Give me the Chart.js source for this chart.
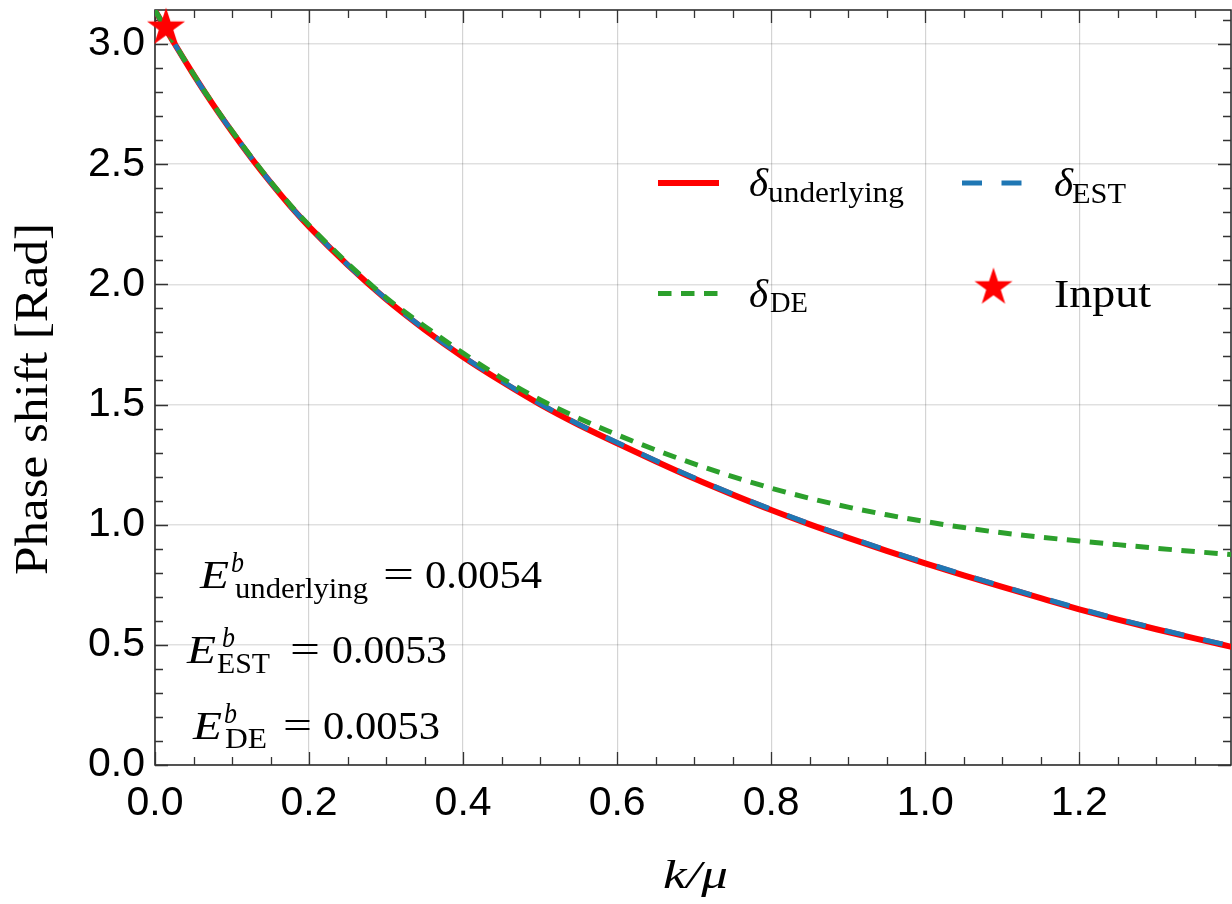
<!DOCTYPE html>
<html>
<head>
<meta charset="utf-8">
<script src="https://cdn.jsdelivr.net/npm/chart.js@4.4.1/dist/chart.umd.min.js"></script>
<style>
  html, body { margin: 0; padding: 0; background: #fff; }
  #wrap { width: 1232px; height: 904px; }
</style>
</head>
<body>
<div id="wrap"><canvas id="phaseChart" width="1232" height="904"></canvas></div>
<script>
// k/mu sample points and phase shifts (rad)
const kValues = [0, 0.025, 0.05, 0.075, 0.1, 0.125, 0.15, 0.175, 0.2, 0.25, 0.3, 0.35, 0.4, 0.45, 0.5, 0.55,
  0.6, 0.65, 0.7, 0.75, 0.8, 0.85, 0.9, 0.95, 1.0, 1.05, 1.1, 1.15, 1.2, 1.25, 1.3, 1.35, 1.4];
const deltaUnderlying = [3.14, 3.003, 2.873, 2.75, 2.635, 2.526, 2.424, 2.328, 2.24, 2.081, 1.938, 1.812, 1.698, 1.596, 1.501, 1.416,
  1.339, 1.264, 1.192, 1.125, 1.061, 1.001, 0.945, 0.891, 0.839, 0.789, 0.741, 0.694, 0.648, 0.605, 0.565, 0.527, 0.49];
const deltaEST = [3.14, 3.003, 2.873, 2.75, 2.636, 2.527, 2.425, 2.329, 2.241, 2.082, 1.94, 1.814, 1.7, 1.598, 1.503, 1.418,
  1.342, 1.267, 1.195, 1.128, 1.064, 1.004, 0.948, 0.894, 0.842, 0.792, 0.744, 0.697, 0.651, 0.608, 0.568, 0.53, 0.493];
const deltaDE = [3.14, 3.004, 2.875, 2.752, 2.638, 2.53, 2.428, 2.333, 2.246, 2.088, 1.945, 1.826, 1.714, 1.61, 1.52, 1.443,
  1.374, 1.311, 1.253, 1.2, 1.152, 1.11, 1.073, 1.041, 1.013, 0.988, 0.966, 0.948, 0.932, 0.917, 0.902, 0.888, 0.875];

// the input point
const inputK = [0.0143];
const inputPhase = [3.068];

// axis ranges and ticks
const xMax = 1.397;
const yMax = Math.PI;
const xMajorStep = 0.2, xMinorStep = 0.05;
const yMajorStep = 0.5, yMinorStep = 0.1;

const RED = '#ff0000';
const BLUE = '#1f77b4';
const GREEN = '#2ca02c';
const SERIF = '"Liberation Serif", "DejaVu Serif", serif';
const SANS = '"Liberation Sans", Arial, sans-serif';

function toPoints(xs, ys) {
  return xs.map((x, i) => ({ x: x, y: ys[i] }));
}

// filled five-point star used as the marker
function makeStar(r, color) {
  const c = document.createElement('canvas');
  const size = Math.ceil(r * 2 + 4);
  c.width = size; c.height = size;
  const g = c.getContext('2d');
  const cx = size / 2, cy = size / 2, inner = r * 0.382;
  g.beginPath();
  for (let i = 0; i < 10; i++) {
    const rad = i % 2 === 0 ? r : inner;
    const a = -Math.PI / 2 + i * Math.PI / 5;
    const px = cx + rad * Math.cos(a), py = cy + rad * Math.sin(a);
    if (i === 0) g.moveTo(px, py); else g.lineTo(px, py);
  }
  g.closePath();
  g.fillStyle = color;
  g.fill();
  return c;
}
const starImg = makeStar(20, RED);

// draw text squeezed/stretched to a given width
function fitText(ctx, text, x, y, font, width) {
  ctx.save();
  ctx.font = font;
  const w = ctx.measureText(text).width;
  ctx.translate(x, y);
  if (width) ctx.scale(width / w, 1);
  ctx.fillText(text, 0, 0);
  ctx.restore();
}

// fixed axis box sizes, no extra label padding
function fixBox(size) {
  return s => {
    if (s.isHorizontal()) s.height = size; else s.width = size;
    s.paddingTop = 0; s.paddingBottom = 0; s.paddingLeft = 0; s.paddingRight = 0;
  };
}

// frame with inward ticks on all four sides
const frameTicks = {
  id: 'frameTicks',
  beforeDatasetsDraw(chart) {
    const { ctx, chartArea: a, scales: { x, y } } = chart;
    ctx.save();
    ctx.strokeStyle = '#222';
    ctx.lineWidth = 1.5;
    ctx.strokeRect(a.left, a.top, a.right - a.left, a.bottom - a.top);
    ctx.lineWidth = 1.3;
    ctx.strokeStyle = '#333';
    ctx.beginPath();
    for (let v = 0; v <= xMax + 1e-9; v += xMinorStep) {
      const isMajor = Math.abs(v / xMajorStep - Math.round(v / xMajorStep)) < 1e-6;
      const len = isMajor ? 13 : 8;
      const px = Math.round(x.getPixelForValue(v)) + 0.5;
      ctx.moveTo(px, a.bottom); ctx.lineTo(px, a.bottom - len);
      ctx.moveTo(px, a.top); ctx.lineTo(px, a.top + len);
    }
    for (let v = 0; v <= yMax + 1e-9; v += yMinorStep) {
      const isMajor = Math.abs(v / yMajorStep - Math.round(v / yMajorStep)) < 1e-6;
      const len = isMajor ? 13 : 8;
      const py = Math.round(y.getPixelForValue(v)) + 0.5;
      ctx.moveTo(a.left, py); ctx.lineTo(a.left + len, py);
      ctx.moveTo(a.right, py); ctx.lineTo(a.right - len, py);
    }
    ctx.stroke();
    ctx.restore();
  }
};

// axis titles, legend and error labels
const labels = {
  id: 'labels',
  afterDraw(chart) {
    const { ctx } = chart;
    ctx.save();
    ctx.fillStyle = '#000';
    ctx.textBaseline = 'alphabetic';
    ctx.textAlign = 'left';

    // axis titles
    fitText(ctx, 'k/\u03bc', 663, 888, 'italic 40px ' + SERIF, 65);
    ctx.save();
    ctx.translate(47, 575);
    ctx.rotate(-Math.PI / 2);
    fitText(ctx, 'Phase shift [Rad]', 0, 0, '46px ' + SERIF, 352);
    ctx.restore();

    // legend samples
    ctx.lineCap = 'butt';
    ctx.strokeStyle = RED; ctx.lineWidth = 6; ctx.setLineDash([]);
    ctx.beginPath(); ctx.moveTo(658, 183); ctx.lineTo(719, 183); ctx.stroke();
    ctx.strokeStyle = BLUE; ctx.lineWidth = 5; ctx.setLineDash([20, 19.5]);
    ctx.beginPath(); ctx.moveTo(962, 183); ctx.lineTo(1022, 183); ctx.stroke();
    ctx.strokeStyle = GREEN; ctx.lineWidth = 5; ctx.setLineDash([13.5, 9.5]);
    ctx.beginPath(); ctx.moveTo(658, 293.5); ctx.lineTo(719, 293.5); ctx.stroke();
    ctx.setLineDash([]);
    ctx.drawImage(starImg, 993.5 - starImg.width / 2, 287.5 - starImg.height / 2);

    // legend text
    const big = '41px ' + SERIF, bigIt = 'italic 41px ' + SERIF, small = '29px ' + SERIF, smallIt = 'italic 29px ' + SERIF;
    fitText(ctx, '\u03b4', 749, 196, bigIt);
    fitText(ctx, 'underlying', 768, 202, small, 136);
    fitText(ctx, '\u03b4', 1054, 196, bigIt);
    fitText(ctx, 'EST', 1072, 203, small, 54);
    fitText(ctx, '\u03b4', 749, 307, bigIt);
    fitText(ctx, 'DE', 770, 312, small, 38);
    fitText(ctx, 'Input', 1054, 307, big, 97);

    // error labels
    fitText(ctx, 'E', 200, 588, bigIt, 29);
    fitText(ctx, 'b', 231, 572, smallIt, 13);
    fitText(ctx, 'underlying', 235, 598, small, 133);
    fitText(ctx, '=', 383, 588, big, 31);
    fitText(ctx, '0.0054', 425, 588, big, 117);

    fitText(ctx, 'E', 187, 663, bigIt, 29);
    fitText(ctx, 'b', 222, 647, smallIt, 13);
    fitText(ctx, 'EST', 217, 673, small, 53);
    fitText(ctx, '=', 290, 663, big, 30);
    fitText(ctx, '0.0053', 332, 663, big, 115);

    fitText(ctx, 'E', 193, 739, bigIt, 29);
    fitText(ctx, 'b', 224, 723, smallIt, 13);
    fitText(ctx, 'DE', 225, 748, small, 42);
    fitText(ctx, '=', 283, 739, big, 29);
    fitText(ctx, '0.0053', 323, 739, big, 117);
    ctx.restore();
  }
};

const ctx = document.getElementById('phaseChart').getContext('2d');
new Chart(ctx, {
  type: 'scatter',
  data: {
    datasets: [
      {
        label: 'Input',
        data: toPoints(inputK, inputPhase),
        pointStyle: starImg,
        pointRadius: 20,
        showLine: false,
        clip: false,
        order: 0
      },
      {
        label: 'delta_DE',
        data: toPoints(kValues, deltaDE),
        showLine: true,
        borderColor: GREEN,
        borderWidth: 5,
        borderDash: [13.5, 9.5],
        pointRadius: 0,
        cubicInterpolationMode: 'monotone',
        order: 1
      },
      {
        label: 'delta_EST',
        data: toPoints(kValues, deltaEST),
        showLine: true,
        borderColor: BLUE,
        borderWidth: 5,
        borderDash: [20, 19.5],
        pointRadius: 0,
        cubicInterpolationMode: 'monotone',
        order: 2
      },
      {
        label: 'delta_underlying',
        data: toPoints(kValues, deltaUnderlying),
        showLine: true,
        borderColor: RED,
        borderWidth: 6,
        pointRadius: 0,
        cubicInterpolationMode: 'monotone',
        order: 3
      }
    ]
  },
  options: {
    responsive: false,
    animation: false,
    layout: { autoPadding: false, padding: { top: 10, right: 1, left: 0, bottom: 0 } },
    plugins: {
      legend: { display: false },
      tooltip: { enabled: false }
    },
    scales: {
      x: {
        type: 'linear',
        min: 0,
        max: xMax,
        afterFit: fixBox(139),
        border: { display: false },
        grid: { color: 'rgba(0,0,0,0.17)', lineWidth: 1.2, drawTicks: false },
        ticks: {
          stepSize: xMajorStep,
          includeBounds: false,
          autoSkip: false,
          maxRotation: 0,
          padding: 14,
          color: '#000',
          font: { family: SANS, size: 41 },
          callback: v => v.toFixed(1)
        }
      },
      y: {
        type: 'linear',
        min: 0,
        max: yMax,
        afterFit: fixBox(155),
        border: { display: false },
        grid: { color: 'rgba(0,0,0,0.12)', lineWidth: 1.5, drawTicks: false },
        ticks: {
          stepSize: yMajorStep,
          includeBounds: false,
          autoSkip: false,
          padding: 10,
          color: '#000',
          font: { family: SANS, size: 41 },
          callback: v => v.toFixed(1)
        }
      }
    }
  },
  plugins: [frameTicks, labels]
});
</script>
</body>
</html>
